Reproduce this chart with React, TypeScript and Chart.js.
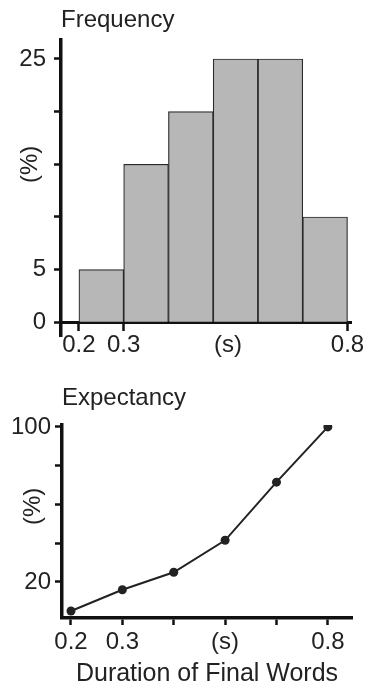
import React, { useEffect, useRef } from 'react';
import { Chart, registerables } from 'chart.js';

Chart.register(...registerables);

// ---- Frequency histogram data ----
const FREQ_BIN_CENTERS = [0.25, 0.35, 0.45, 0.55, 0.65, 0.75];
const FREQ_VALUES = [5, 15, 20, 25, 25, 10];
const FREQ_Y_TICKS = [0, 5, 10, 15, 20, 25];
const FREQ_Y_LABELS = ['0', '5', '', '', '', '25'];
const FREQ_X_TICKS = [0.2, 0.3, 0.533, 0.8];
const FREQ_X_LABELS = ['0.2', '0.3', '(s)', '0.8'];
const FREQ_X_TICK_MARKS = [true, true, false, true];

// ---- Expectancy line data ----
const EXP_X = [0, 1, 2, 3, 4, 5];
const EXP_VALUES = [5, 16, 25, 41.5, 71.5, 100];
const EXP_X_LABELS = ['0.2', '0.3', '', '(s)', '', '0.8'];
const EXP_Y_TICKS = [20, 40, 60, 80, 100];
const EXP_Y_LABELS = ['20', '', '', '', '100'];

const FONT_FAMILY = '"Liberation Sans", Arial, Helvetica, sans-serif';
const TEXT = '#222';
const AXIS = '#111';
const FS = 24;

const yUnitLabel = {
  id: 'yUnitLabel',
  afterDraw(chart: any, _args: any, opts: any) {
    if (!opts || !opts.text) return;
    const y = chart.scales.y.getPixelForValue(opts.value);
    const ctx = chart.ctx;
    ctx.save();
    ctx.translate(opts.x, y);
    ctx.rotate(-Math.PI / 2);
    ctx.font = `${FS}px ${FONT_FAMILY}`;
    ctx.fillStyle = TEXT;
    ctx.textAlign = 'center';
    ctx.textBaseline = 'middle';
    ctx.fillText(opts.text, 0, 0);
    ctx.restore();
  },
};

function FrequencyChart() {
  const ref = useRef<HTMLCanvasElement | null>(null);
  useEffect(() => {
    if (!ref.current) return;
    const chart = new Chart(ref.current, {
      type: 'bar',
      data: {
        datasets: [
          {
            data: FREQ_BIN_CENTERS.map((x, i) => ({ x, y: FREQ_VALUES[i] })),
            backgroundColor: '#b7b7b7',
            borderColor: '#2a2a2a',
            borderWidth: 1.2,
            barPercentage: 1,
            categoryPercentage: 1,
          },
        ],
      },
      options: {
        responsive: false,
        animation: false,
        layout: { padding: { left: 0, right: 17, top: 0, bottom: 24 } },
        plugins: {
          legend: { display: false },
          tooltip: { enabled: false },
          title: {
            display: true,
            text: 'Frequency',
            align: 'start',
            fullSize: false,
            color: TEXT,
            font: { family: FONT_FAMILY, size: FS, weight: 'normal' },
            padding: { top: 5.5, bottom: 5.7 },
          },
          yUnitLabel: { text: '(%)', value: 15, x: 30 },
        } as any,
        scales: {
          x: {
            type: 'linear',
            position: { y: 0 } as any,
            offset: false,
            min: 0.16,
            max: 0.8078,
            afterBuildTicks: (s: any) => {
              s.ticks = FREQ_X_TICKS.map((v) => ({ value: v }));
            },
            border: { display: true, color: AXIS, width: 3 },
            grid: {
              offset: false,
              drawOnChartArea: false,
              drawTicks: true,
              tickLength: 7,
              tickWidth: 2.5,
              tickColor: (ctx: any) => {
                const i = FREQ_X_TICKS.indexOf(ctx.tick?.value);
                return i >= 0 && !FREQ_X_TICK_MARKS[i] ? 'rgba(0,0,0,0)' : AXIS;
              },
            },
            ticks: {
              autoSkip: false,
              maxRotation: 0,
              padding: 2,
              color: TEXT,
              font: { family: FONT_FAMILY, size: FS },
              callback: (v: any) => {
                const i = FREQ_X_TICKS.indexOf(Number(v));
                return i >= 0 ? FREQ_X_LABELS[i] : '';
              },
            },
          },
          y: {
            type: 'linear',
            position: 'left',
            min: -1.3,
            max: 26.8,
            afterBuildTicks: (s: any) => {
              s.ticks = FREQ_Y_TICKS.map((v) => ({ value: v }));
            },
            afterFit: (s: any) => {
              s.width = 61;
            },
            border: { display: true, color: AXIS, width: 3.5 },
            grid: {
              drawOnChartArea: false,
              drawTicks: true,
              tickLength: 7,
              tickWidth: 2.5,
              tickColor: AXIS,
            },
            ticks: {
              padding: 8,
              color: TEXT,
              font: { family: FONT_FAMILY, size: FS },
              callback: (v: any) => {
                const i = FREQ_Y_TICKS.indexOf(Number(v));
                return i >= 0 ? FREQ_Y_LABELS[i] : '';
              },
            },
          },
        },
      },
      plugins: [yUnitLabel],
    } as any);
    return () => chart.destroy();
  }, []);
  return (
    <canvas
      ref={ref}
      width={368}
      height={360}
      style={{ display: 'block', position: 'absolute', left: 0, top: 0 }}
    />
  );
}

function ExpectancyChart() {
  const ref = useRef<HTMLCanvasElement | null>(null);
  useEffect(() => {
    if (!ref.current) return;
    const chart = new Chart(ref.current, {
      type: 'line',
      data: {
        datasets: [
          {
            data: EXP_X.map((x, i) => ({ x, y: EXP_VALUES[i] })),
            borderColor: '#222',
            borderWidth: 2,
            pointRadius: 4.5,
            pointBackgroundColor: '#222',
            pointBorderColor: '#222',
            pointBorderWidth: 0,
            tension: 0,
            fill: false,
          },
        ],
      },
      options: {
        responsive: false,
        animation: false,
        layout: { padding: { left: 0, right: 16, top: 0, bottom: 0 } },
        plugins: {
          legend: { display: false },
          tooltip: { enabled: false },
          title: {
            display: true,
            text: 'Expectancy',
            align: 'start',
            fullSize: false,
            color: TEXT,
            font: { family: FONT_FAMILY, size: FS, weight: 'normal' },
            padding: { top: 34, bottom: 12.2 },
          },
          yUnitLabel: { text: '(%)', value: 59, x: 33 },
        } as any,
        scales: {
          x: {
            type: 'linear',
            position: 'bottom',
            offset: false,
            min: -0.175,
            max: 5.47,
            afterBuildTicks: (s: any) => {
              s.ticks = EXP_X.map((v) => ({ value: v }));
            },
            afterFit: (s: any) => {
              s.height = 71;
            },
            border: { display: true, color: AXIS, width: 3.5 },
            grid: {
              drawOnChartArea: false,
              drawTicks: true,
              tickLength: 7,
              tickWidth: 2.5,
              tickColor: AXIS,
            },
            ticks: {
              autoSkip: false,
              maxRotation: 0,
              padding: 3,
              color: TEXT,
              font: { family: FONT_FAMILY, size: FS },
              callback: (v: any) => {
                const i = EXP_X.indexOf(Number(v));
                return i >= 0 ? EXP_X_LABELS[i] : '';
              },
            },
            title: {
              display: true,
              text: 'Duration of Final Words',
              color: TEXT,
              font: { family: FONT_FAMILY, size: 25 },
              padding: { top: 0, bottom: 0 },
            },
          },
          y: {
            type: 'linear',
            position: 'left',
            min: 1.4,
            max: 101,
            afterBuildTicks: (s: any) => {
              s.ticks = EXP_Y_TICKS.map((v) => ({ value: v }));
            },
            afterFit: (s: any) => {
              s.width = 62;
            },
            border: { display: true, color: AXIS, width: 3.5 },
            grid: {
              drawOnChartArea: false,
              drawTicks: true,
              tickLength: 7,
              tickWidth: 2.5,
              tickColor: AXIS,
            },
            ticks: {
              padding: 4,
              color: TEXT,
              font: { family: FONT_FAMILY, size: FS },
              callback: (v: any) => {
                const i = EXP_Y_TICKS.indexOf(Number(v));
                return i >= 0 ? EXP_Y_LABELS[i] : '';
              },
            },
          },
        },
      },
      plugins: [yUnitLabel],
    } as any);
    return () => chart.destroy();
  }, []);
  return (
    <canvas
      ref={ref}
      width={368}
      height={339}
      style={{ display: 'block', position: 'absolute', left: 0, top: 350 }}
    />
  );
}

export default function App() {
  useEffect(() => {
    document.body.style.margin = '0';
    document.body.style.background = '#fff';
  }, []);
  return (
    <div style={{ position: 'relative', width: 368, height: 689, background: '#fff', overflow: 'hidden' }}>
      <FrequencyChart />
      <ExpectancyChart />
    </div>
  );
}
